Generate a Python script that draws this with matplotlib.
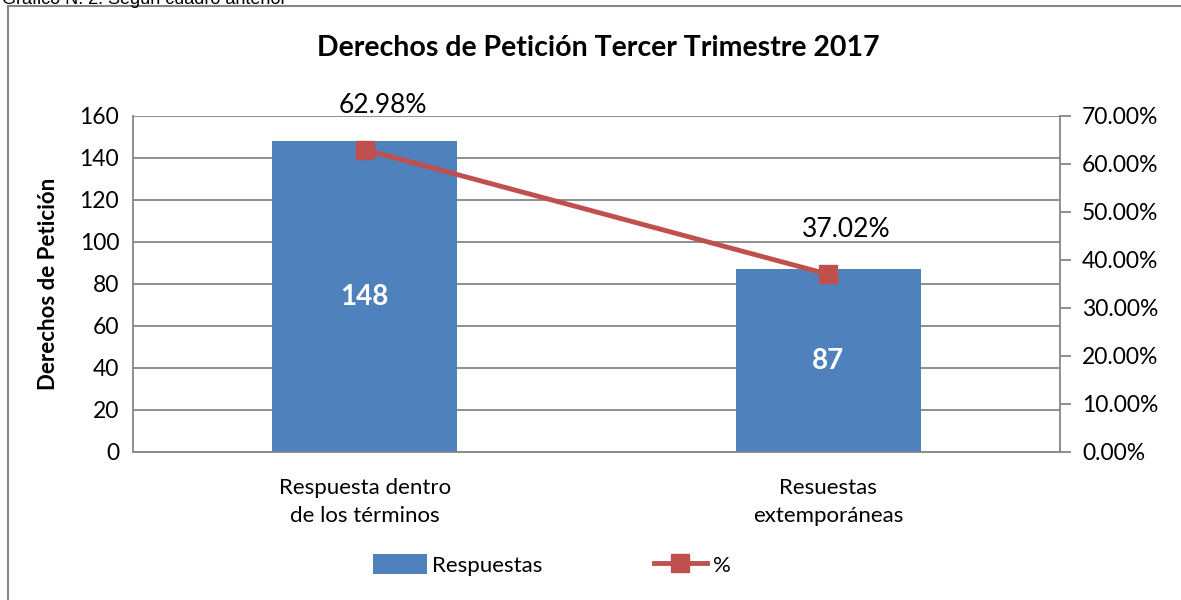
import matplotlib.pyplot as plt
from matplotlib.lines import Line2D
from matplotlib.patches import Patch

plt.rcParams['font.family'] = ['Lato', 'DejaVu Sans']

categorias = ['Respuesta dentro\nde los términos', 'Resuestas\nextemporáneas']
respuestas = [148, 87]
porcentaje = [62.98, 37.02]

azul = '#4F81BD'
rojo = '#C0504D'
gris = '#868686'

fig = plt.figure(figsize=(11.81, 6.0), dpi=100)
ax = fig.add_axes([133/1181, 1-452/600, (1060-133)/1181, (452-116)/600])

x = range(len(categorias))
ax.bar(x, respuestas, width=0.4, color=azul, zorder=2)
ax.set_xlim(-0.5, 1.5)
ax.set_ylim(0, 160)
ax.set_yticks(range(0, 161, 20))
ax.yaxis.grid(True, color=gris, lw=1.3, zorder=0)
ax.set_xticks(list(x))
ax.set_xticklabels(categorias, fontsize=16, linespacing=1.45)
ax.tick_params(axis='x', length=0, pad=19)
ax.tick_params(axis='y', length=0, labelsize=16.5, pad=10)
for s in ['top', 'right']:
    ax.spines[s].set_visible(False)
for s in ['left', 'bottom']:
    ax.spines[s].set_color(gris)
    ax.spines[s].set_linewidth(1.3)
ax.set_ylabel('Derechos de Petición', fontsize=16, fontweight='bold', labelpad=15)

for i, v in enumerate(respuestas):
    ax.text(i, v/2, str(v), color='white', fontsize=20, fontweight='bold',
            ha='center', va='center', zorder=3)

ax2 = ax.twinx()
ax2.plot(list(x), porcentaje, color=rojo, lw=3.5, marker='s', ms=13, zorder=4)
ax2.set_ylim(0, 70)
ax2.set_yticks(range(0, 71, 10))
ax2.set_yticklabels(['%.2f%%' % t for t in range(0, 71, 10)])
ax2.tick_params(axis='y', length=8, width=1.3, color=gris, labelsize=16.5, pad=8)
for s in ['top', 'left', 'bottom']:
    ax2.spines[s].set_visible(False)
ax2.spines['right'].set_color(gris)
ax2.spines['right'].set_linewidth(1.3)

for i, p in enumerate(porcentaje):
    ax2.annotate('%.2f%%' % p, (i, p), xytext=(13, 32), textcoords='offset points',
                 ha='center', va='center', fontsize=19)

fig.text(598/1181, 1-48/600, 'Derechos de Petición Tercer Trimestre 2017',
         ha='center', va='center', fontsize=20.5, fontweight='bold')

handles = [Patch(facecolor=azul, label='Respuestas'),
           Line2D([0], [0], color=rojo, lw=3.5, marker='s', ms=13, label='%')]
fig.legend(handles=handles, loc='center', bbox_to_anchor=(552/1181, 1-565/600),
           ncol=2, frameon=False, fontsize=16, handlelength=2.4, handleheight=1.0,
           columnspacing=5.0, handletextpad=0.25)

# marco exterior y texto recortado arriba
fig.add_artist(Line2D([8/1181, 8/1181], [0, 1-6/600], color=gris, lw=1.5))
fig.add_artist(Line2D([8/1181, 1], [1-6/600, 1-6/600], color=gris, lw=1.5))
fig.text(2/1181, 1-4/600, 'Gráfico N. 2. Según cuadro anterior', fontsize=13,
         family='Liberation Sans', ha='left', va='baseline')

fig.savefig('out.png', dpi=100)
